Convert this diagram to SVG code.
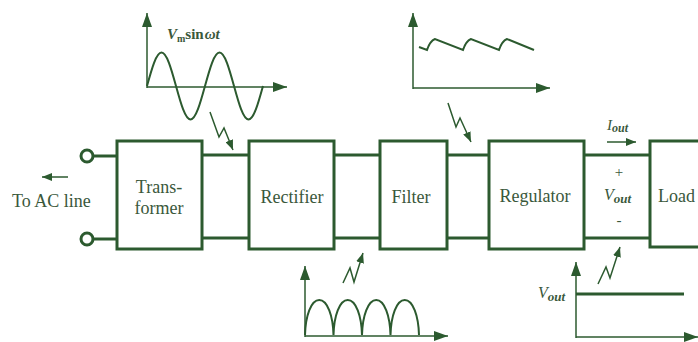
<svg xmlns="http://www.w3.org/2000/svg" width="698" height="342" viewBox="0 0 698 342">
<style>
.box{fill:none;stroke:#2c5a2f;stroke-width:3}
.wire{fill:none;stroke:#2c5a2f;stroke-width:3}
.axis{fill:none;stroke:#2c5a2f;stroke-width:1.5}
.curve{fill:none;stroke:#2c5a2f;stroke-width:2}
.bolt{fill:none;stroke:#2c5a2f;stroke-width:1.5}
.term{fill:#fff;stroke:#2c5a2f;stroke-width:3}
.lbl{font-family:"Liberation Serif","Times New Roman",serif;font-size:18px;fill:#3a583b}
.sym{font-family:"Liberation Serif","Times New Roman",serif;fill:#3a583b}
</style>
<defs>
<marker id="ah" viewBox="0 0 14 10" refX="14" refY="5" markerWidth="14" markerHeight="10" markerUnits="userSpaceOnUse" orient="auto">
<path d="M0,0 L14,5 L0,10 z" fill="#2c5a2f"/>
</marker>
<marker id="bh" viewBox="0 0 10 8" refX="10" refY="4" markerWidth="10" markerHeight="8" markerUnits="userSpaceOnUse" orient="auto">
<path d="M0,0 L10,4 L0,8 z" fill="#2c5a2f"/>
</marker>
</defs>
<rect width="698" height="342" fill="#fff"/>

<g id="connectors">
<line class="wire" x1="93" y1="156" x2="117" y2="156"/>
<line class="wire" x1="93" y1="239" x2="117" y2="239"/>
<line class="wire" x1="202" y1="155" x2="249" y2="155"/>
<line class="wire" x1="202" y1="238" x2="249" y2="238"/>
<line class="wire" x1="334" y1="155" x2="380" y2="155"/>
<line class="wire" x1="334" y1="238" x2="380" y2="238"/>
<line class="wire" x1="447" y1="155" x2="489" y2="155"/>
<line class="wire" x1="447" y1="238" x2="489" y2="238"/>
<line class="wire" x1="584" y1="155" x2="650" y2="155"/>
<line class="wire" x1="584" y1="238" x2="650" y2="238"/>
<path class="bolt" d="M210,112 L219,137 L224,128 L233,150" marker-end="url(#bh)"/>
<path class="bolt" d="M448,103 L456,127 L460,118 L471,142" marker-end="url(#bh)"/>
<path class="bolt" d="M343,283 L350,268 L354,282 L363,253" marker-end="url(#bh)"/>
<path class="bolt" d="M598,284 L606,267 L610,278 L620,247" marker-end="url(#bh)"/>
<line class="axis" x1="68" y1="177" x2="42" y2="177" stroke-width="2" marker-end="url(#bh)"/>
<line class="axis" x1="607" y1="142" x2="636" y2="142" stroke-width="2" marker-end="url(#bh)"/>
</g>

<g id="ac-line">
<circle class="term" cx="87" cy="156" r="6"/>
<circle class="term" cx="87" cy="239" r="6"/>
<text class="lbl" x="12" y="207">To AC line</text>
</g>

<g id="transformer">
<rect class="box" x="117" y="141" width="85" height="108"/>
<text class="lbl" x="159" y="193" text-anchor="middle">Trans-</text>
<text class="lbl" x="159" y="214" text-anchor="middle">former</text>
</g>

<g id="rectifier">
<rect class="box" x="249" y="141" width="85" height="108"/>
<text class="lbl" x="292" y="203" text-anchor="middle">Rectifier</text>
</g>

<g id="filter">
<rect class="box" x="380" y="141" width="67" height="108"/>
<text class="lbl" x="411" y="203" text-anchor="middle">Filter</text>
</g>

<g id="regulator">
<rect class="box" x="489" y="141" width="95" height="108"/>
<text class="lbl" x="535" y="202" text-anchor="middle">Regulator</text>
</g>

<g id="load">
<rect class="box" x="650" y="141" width="60" height="106"/>
<text class="lbl" x="658" y="202">Load</text>
</g>

<g id="output-labels">
<text class="sym" x="607" y="130" font-size="15" font-style="italic">I<tspan font-size="12" font-weight="bold" dy="2">out</tspan></text>
<text class="sym" x="619" y="177" font-size="15" text-anchor="middle">+</text>
<text class="sym" x="604" y="200" font-size="16" font-style="italic">V<tspan font-size="13" font-weight="bold" dy="3">out</tspan></text>
<text class="sym" x="619" y="225" font-size="15" text-anchor="middle">-</text>
</g>

<g id="plot-sine">
<line class="axis" x1="147" y1="88" x2="147" y2="13" marker-end="url(#ah)"/>
<line class="axis" x1="147" y1="87" x2="287" y2="87" marker-end="url(#ah)"/>
<path class="curve" d="M147,86 c4.73,-17.2 9.25,-33.5 14.5,-33.5 s9.77,16.3 14.5,33.5 s9.25,33.5 14.5,33.5 s9.77,-16.3 14.5,-33.5 s9.25,-33.5 14.5,-33.5 s9.77,16.3 14.5,33.5 s9.25,33.5 14.5,33.5 s9.77,-16.3 14.5,-33.5"/>
<text class="sym" x="167" y="39" font-size="15" font-weight="bold"><tspan font-style="italic">V</tspan><tspan font-size="10" dy="3">m</tspan><tspan dy="-3">sin</tspan><tspan font-style="italic" dx="1">ωt</tspan></text>
</g>

<g id="plot-ripple">
<line class="axis" x1="413" y1="89" x2="413" y2="13" marker-end="url(#ah)"/>
<line class="axis" x1="413" y1="88" x2="550" y2="88" marker-end="url(#ah)"/>
<path class="curve" d="M419,47 L427,50 Q430,41 435,39 L463,50 Q466,41 471,39 L499,50 Q502,41 507,39 L534,50"/>
</g>

<g id="plot-rectified">
<line class="axis" x1="305" y1="337" x2="305" y2="266" marker-end="url(#ah)"/>
<line class="axis" x1="305" y1="336" x2="448" y2="336" marker-end="url(#ah)"/>
<path class="curve" d="M305,335 c0.5,-19 6,-35 14.25,-35 s13.75,16 14.25,35 c0.5,-19 6,-35 14.25,-35 s13.75,16 14.25,35 c0.5,-19 6,-35 14.25,-35 s13.75,16 14.25,35 c0.5,-19 6,-35 14.25,-35 s13.75,16 14.25,35"/>
</g>

<g id="plot-vout">
<line class="axis" x1="576" y1="338" x2="576" y2="262" marker-end="url(#ah)"/>
<line class="axis" x1="576" y1="337" x2="698" y2="337" marker-end="url(#ah)"/>
<line class="wire" x1="576" y1="294" x2="684" y2="294"/>
<text class="sym" x="538" y="298" font-size="16" font-style="italic">V<tspan font-size="13" font-weight="bold" dy="3">out</tspan></text>
</g>
</svg>
